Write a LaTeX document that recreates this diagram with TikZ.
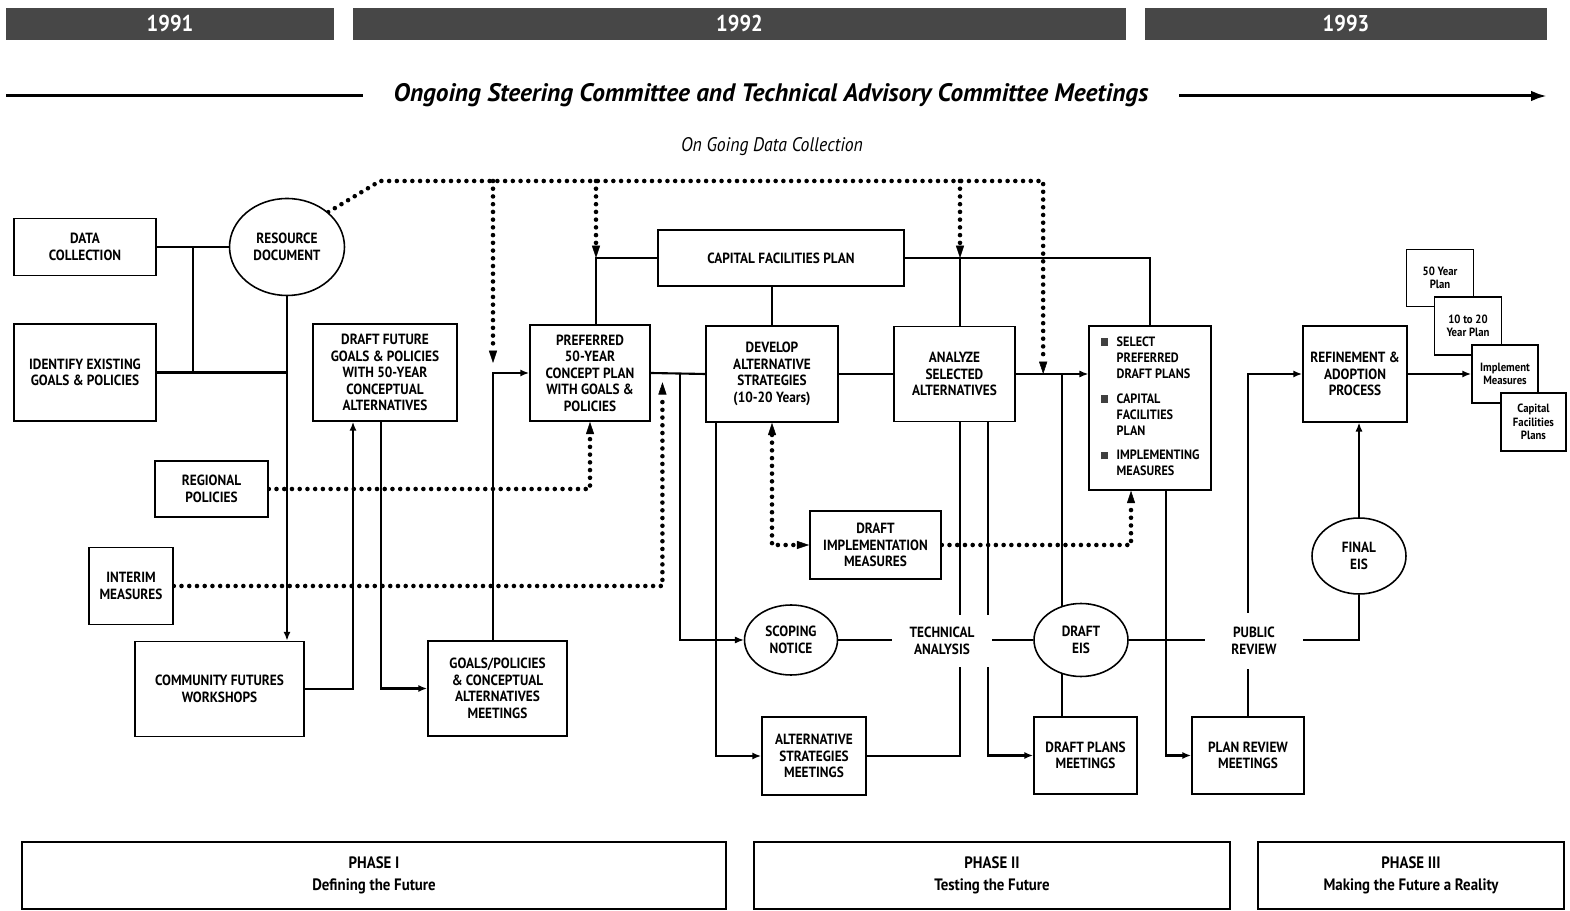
\documentclass[tikz,border=0pt]{standalone}
\usepackage{fontspec}
\setmainfont{PT Sans}[FakeStretch=0.9]
\newfontfamily\headfont{PT Sans}
\usetikzlibrary{shapes.geometric,arrows.meta,calc,positioning}
\pgfdeclarelayer{bg}
\pgfsetlayers{bg,main}
\newcommand{\boxfont}{\fontsize{8.4}{9.4}\selectfont\bfseries}
\newcommand{\bsq}{\textcolor{black!75}{\rule[0.1ex]{4.2pt}{4.2pt}}}
\tikzset{
  >={Latex[length=5pt,width=4pt]},
  procbox/.style={draw, line width=0.9pt, fill=white, align=center, inner sep=1pt, font=\boxfont},
  evtoval/.style={ellipse, draw, line width=0.9pt, fill=white, align=center, inner sep=0pt, font=\boxfont},
  gaplbl/.style={fill=white, align=center, font=\boxfont},
  outbox/.style={draw, line width=0.9pt, fill=white, align=center, inner sep=0pt, font=\fontsize{6.8}{7.6}\selectfont\bfseries},
  yearbar/.style={fill=black!72, text=white, minimum height=0.64cm, inner sep=0pt, font=\fontsize{13}{14}\selectfont\bfseries},
  phasebox/.style={draw, line width=0.7pt, align=center, minimum height=1.34cm, inner sep=0pt, font=\fontsize{9.4}{12.5}\selectfont\bfseries},
  mainflow/.style={line width=1.2pt},
  sideflow/.style={line width=0.7pt},
  dotflow/.style={line width=2.6pt, line cap=round, dash pattern=on 0pt off 4.4pt},
  dotarrow/.style={dotflow, -{Triangle[length=7pt,width=4.6pt,line width=0.3pt]}},
}
\begin{document}
\begin{tikzpicture}[x=0.02cm,y=-0.02cm]
      \useasboundingbox (0,0) rectangle (1570,911);
      % Define nodes
      \node[yearbar, minimum width=6.56cm]  (yr91) at (170,24)   {1991};
      \node[yearbar, minimum width=15.46cm] (yr92) at (739.5,24) {1992};
      \node[yearbar, minimum width=8.04cm]  (yr93) at (1346,24)  {1993};
      \node[fill=white, inner xsep=0.62cm, font=\headfont\fontsize{14.4}{16}\selectfont\bfseries\itshape] (ongoing) at (771,95)
        {Ongoing Steering Committee and Technical Advisory Committee Meetings};
      \node[font=\fontsize{11.2}{13}\selectfont\itshape] (datanote) at (772,147) {On Going Data Collection};
      \coordinate (hdl) at (6,96);
      \coordinate (hdr) at (1547,96);

      \node[procbox, minimum width=2.84cm, minimum height=1.14cm] (datacol) at (85,247) {DATA\\COLLECTION};
      \node[evtoval, minimum width=2.30cm, minimum height=1.94cm] (resdoc) at (287,247) {RESOURCE\\DOCUMENT};
      \node[procbox, minimum width=2.84cm, minimum height=1.94cm] (identify) at (85,372.5) {IDENTIFY EXISTING\\GOALS \& POLICIES};
      \node[procbox, minimum width=2.88cm, minimum height=1.94cm] (draftfut) at (385,372.5)
        {DRAFT FUTURE\\GOALS \& POLICIES\\WITH 50-YEAR\\CONCEPTUAL\\ALTERNATIVES};
      \node[procbox, minimum width=2.40cm, minimum height=1.92cm] (prefplan) at (590,373)
        {PREFERRED\\50-YEAR\\CONCEPT PLAN\\WITH GOALS \&\\POLICIES};
      \node[procbox, minimum width=4.92cm, minimum height=1.12cm] (capfac) at (781,258) {CAPITAL FACILITIES PLAN};
      \node[procbox, minimum width=2.64cm, minimum height=1.92cm] (devalt) at (772,374)
        {DEVELOP\\ALTERNATIVE\\STRATEGIES\\(10-20 Years)};
      \node[procbox, minimum width=2.42cm, minimum height=1.90cm] (analyze) at (954.5,374) {ANALYZE\\SELECTED\\ALTERNATIVES};
      \node[procbox, minimum width=2.44cm, minimum height=3.28cm, font=\fontsize{7.7}{9.1}\selectfont\bfseries] (select) at (1150,408)
        {\begin{tabular}{@{}l@{\hspace{5pt}}l@{}}
          \bsq & SELECT\\
               & PREFERRED\\
               & DRAFT PLANS\\[5pt]
          \bsq & CAPITAL\\
               & FACILITIES\\
               & PLAN\\[5pt]
          \bsq & IMPLEMENTING\\
               & MEASURES
         \end{tabular}};
      \node[procbox, minimum width=2.08cm, minimum height=1.92cm] (refine) at (1355,374) {REFINEMENT \&\\ADOPTION\\PROCESS};
      \node[outbox, minimum width=1.34cm, minimum height=1.14cm] (outa) at (1440,278) {50 Year\\Plan};
      \node[outbox, minimum width=1.34cm, minimum height=1.16cm] (outb) at (1468,326) {10 to 20\\Year Plan};
      \node[outbox, minimum width=1.32cm, minimum height=1.16cm] (outc) at (1505,374) {Implement\\Measures};
      \node[outbox, minimum width=1.30cm, minimum height=1.16cm] (outd) at (1533.5,422) {Capital\\Facilities\\Plans};
      \node[procbox, minimum width=2.26cm, minimum height=1.12cm] (regional) at (211.5,489) {REGIONAL\\POLICIES};
      \node[procbox, minimum width=1.68cm, minimum height=1.54cm] (interim) at (131,586) {INTERIM\\MEASURES};
      \node[procbox, minimum width=3.38cm, minimum height=1.90cm] (community) at (219.5,689) {COMMUNITY FUTURES\\WORKSHOPS};
      \node[procbox, minimum width=2.78cm, minimum height=1.90cm] (goalsmeet) at (497.5,688.5)
        {GOALS/POLICIES\\\& CONCEPTUAL\\ALTERNATIVES\\MEETINGS};
      \node[procbox, minimum width=2.62cm, minimum height=1.36cm] (draftimp) at (875.5,545) {DRAFT\\IMPLEMENTATION\\MEASURES};
      \node[evtoval, minimum width=1.86cm, minimum height=1.40cm] (scoping) at (791,640) {SCOPING\\NOTICE};
      \node[gaplbl, inner xsep=0.36cm, inner ysep=0.25cm] (techana) at (942,641) {TECHNICAL\\ANALYSIS};
      \node[evtoval, minimum width=1.88cm, minimum height=1.46cm] (drafteis) at (1081,640) {DRAFT\\EIS};
      \node[gaplbl, inner xsep=0.52cm, inner ysep=0.28cm] (pubrev) at (1254,641) {PUBLIC\\REVIEW};
      \node[evtoval, minimum width=1.88cm, minimum height=1.52cm] (finaleis) at (1359,556) {FINAL\\EIS};
      \node[procbox, minimum width=2.08cm, minimum height=1.56cm] (altmeet) at (814,756) {ALTERNATIVE\\STRATEGIES\\MEETINGS};
      \node[procbox, minimum width=2.06cm, minimum height=1.54cm] (draftmeet) at (1085.5,755.5) {DRAFT PLANS\\MEETINGS};
      \node[procbox, minimum width=2.24cm, minimum height=1.54cm] (reviewmeet) at (1248,755.5) {PLAN REVIEW\\MEETINGS};
      \node[phasebox, minimum width=14.08cm] (phase1) at (374,875.5)  {PHASE I\\Defining the Future};
      \node[phasebox, minimum width=9.52cm]  (phase2) at (992,875.5)  {PHASE II\\Testing the Future};
      \node[phasebox, minimum width=6.12cm]  (phase3) at (1411,875.5) {PHASE III\\Making the Future a Reality};

      % Junctions
      \coordinate (jdat) at ($(datacol.east)!0.5!(resdoc.west)$);
      \coordinate (gbus) at ([xshift=-0.09cm]goalsmeet.north);
      \coordinate (pbus) at ([xshift=0.12cm]prefplan.north);
      \coordinate (abus) at ([xshift=0.11cm]analyze.north);
      \coordinate (ibus) at ($(prefplan.east)!0.214!(devalt.west)$);
      \coordinate (cbus) at ($(prefplan.east)!0.536!(devalt.west)$);
      \coordinate (sbus) at ($(analyze.east)!0.378!(analyze.east -| select.west)$);
      \coordinate (ebus) at ($(analyze.east)!0.635!(analyze.east -| select.west)$);
      \coordinate (dtop) at (380,181);

      % Connect nodes
      \begin{pgfonlayer}{bg}
        \draw[line width=1.7pt, -{Latex[length=9pt,width=6pt]}] (hdl) -- (hdr);
        \draw[sideflow] (datacol.east) -- (resdoc.west);
        \draw[mainflow] (jdat) -- (jdat |- identify.east);
        \draw[mainflow] (identify.east) -- (resdoc.south |- identify.east);
        \draw[mainflow,->] (resdoc.south) -- (resdoc.south |- community.north);
        \draw[mainflow,->] (community.east) -| ([xshift=-0.64cm]draftfut.south);
        \draw[mainflow,->] ([xshift=-0.08cm]draftfut.south) |- (goalsmeet.west);
        \draw[mainflow,->] (gbus) |- (prefplan.west);
        \draw[mainflow] (prefplan.east) -- (devalt.west);
        \draw[sideflow] (pbus) |- (capfac.west);
        \draw[sideflow] (devalt.north) -- (devalt.north |- capfac.south);
        \draw[sideflow] (capfac.east) -| (select.north);
        \draw[sideflow] (abus) -- (abus |- capfac.east);
        \draw[sideflow] (devalt.east) -- (analyze.west);
        \draw[sideflow,->] (analyze.east) -- (analyze.east -| select.west);
        \draw[sideflow,->] (cbus) |- (scoping.west);
        \draw[sideflow] (scoping.east) -- (drafteis.west);
        \draw[sideflow] (drafteis.east) -| (finaleis.south);
        \draw[sideflow,->] (finaleis.north) -- (finaleis.north |- refine.south);
        \draw[mainflow,->] ([xshift=-1.12cm]devalt.south) |- (altmeet.west);
        \draw[mainflow] ([xshift=0.11cm]analyze.south) |- (altmeet.east);
        \draw[mainflow,->] ([xshift=0.67cm]analyze.south) |- (draftmeet.west);
        \draw[mainflow] (ebus) -- (ebus |- draftmeet.north);
        \draw[mainflow,->] ([xshift=0.32cm]select.south) |- (reviewmeet.west);
        \draw[mainflow,->] (reviewmeet.north) |- (refine.west);
        \draw[mainflow,->] (refine.east) -- (outc.west);
        % dotted feeds
        \draw[dotarrow] (resdoc.north east) -- (dtop) -| (sbus);
        \draw[dotarrow] (dtop -| gbus) -- ([yshift=0.2cm]gbus |- prefplan.west);
        \draw[dotarrow] (dtop -| pbus) -- (pbus |- capfac.west);
        \draw[dotarrow] (dtop -| abus) -- (abus |- capfac.east);
        \draw[dotarrow] (regional.east) -| (prefplan.south);
        \draw[dotarrow] (interim.east) -| ([yshift=-0.18cm]ibus);
        \draw[dotflow, {Triangle[length=7pt,width=4.6pt,line width=0.3pt]}-{Triangle[length=7pt,width=4.6pt,line width=0.3pt]}]
          (devalt.south) |- (draftimp.west);
        \draw[dotarrow] (draftimp.east) -| ([xshift=-0.38cm]select.south);
      \end{pgfonlayer}
    \end{tikzpicture}
\end{document}
